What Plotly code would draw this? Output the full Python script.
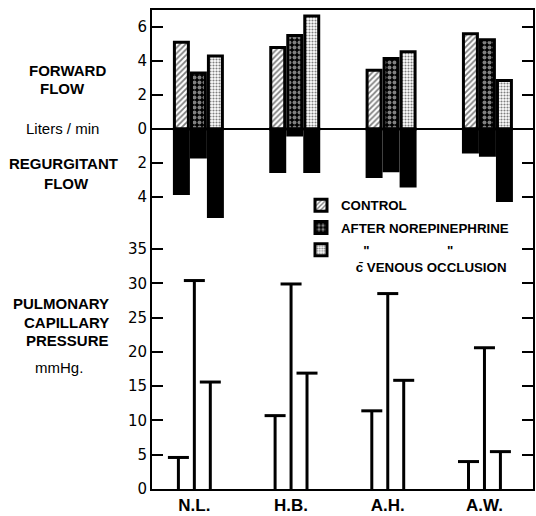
import plotly.graph_objects as go

# ---------------- data ----------------
subjects = ["N.L.", "H.B.", "A.H.", "A.W."]
condition_names = [
    "CONTROL",
    "AFTER NOREPINEPHRINE",
    "\u00a0" * 6 + '"' + "\u00a0" * 21 + '"' + "<br>" + "\u00a0" * 4 + "c\u0304 VENOUS OCCLUSION",
]

# forward flow, liters/min
forward_control = [5.1, 4.8, 3.45, 5.6]
forward_norepi = [3.3, 5.5, 4.15, 5.25]
forward_venous = [4.3, 6.65, 4.55, 2.85]

# regurgitant flow, liters/min (plotted downward)
regurg_control = [3.8, 2.5, 2.8, 1.35]
regurg_norepi = [1.65, 0.35, 2.45, 1.55]
regurg_venous = [5.15, 2.5, 3.35, 4.2]

# pulmonary capillary pressure, mmHg
pcp_control = [4.6, 10.7, 11.4, 4.0]
pcp_norepi = [30.4, 29.9, 28.5, 20.6]
pcp_venous = [15.6, 16.9, 15.85, 5.45]

flow_ticks = [-4, -2, 0, 2, 4, 6]
flow_ticktext = ["4", "2", "0", "2", "4", "6"]
pcp_ticks = [0, 5, 10, 15, 20, 25, 30, 35]

# ---------------- style ----------------
W, H = 536, 516
ML, MR, MT, MB = 152, 3, 10, 27
PW, PH = W - ML - MR, H - MT - MB
offsets_top = [-0.1765, 0.0, 0.1765]
offsets_bottom = [-0.165, 0.0, 0.165]
bar_w = 0.145
patterns = [
    dict(shape="/", bgcolor="white", fgcolor="black", size=4, solidity=0.45),
    dict(shape=".", bgcolor="black", fgcolor="white", size=5, solidity=0.5),
    dict(shape=".", bgcolor="white", fgcolor="black", size=3, solidity=0.4),
]
LABEL_FONT = "Liberation Sans"
NUM_FONT = "DejaVu Sans"


def px_x(px):
    return (px - ML) / PW


def px_y(py):
    return (H - MB - py) / PH


split_px = 230
d = px_y(split_px)

forwards = [forward_control, forward_norepi, forward_venous]
regurgs = [regurg_control, regurg_norepi, regurg_venous]
pcps = [pcp_control, pcp_norepi, pcp_venous]

fig = go.Figure()

for k in range(3):
    xs_top = [i + offsets_top[k] for i in range(len(subjects))]
    xs_bot = [i + offsets_bottom[k] for i in range(len(subjects))]
    fig.add_trace(go.Bar(
        x=xs_top, y=forwards[k], width=bar_w, name=condition_names[k],
        legendgroup=f"g{k}",
        marker=dict(color="white", line=dict(color="black", width=3),
                    pattern=patterns[k]),
        xaxis="x2", yaxis="y2",
    ))
    fig.add_trace(go.Bar(
        x=xs_top, y=[-v for v in regurgs[k]], width=bar_w, showlegend=False,
        legendgroup=f"g{k}",
        marker=dict(color="black", line=dict(color="black", width=3)),
        xaxis="x2", yaxis="y2",
    ))
    fig.add_trace(go.Scatter(
        x=xs_bot, y=pcps[k], mode="markers", showlegend=False,
        marker=dict(symbol="line-ew", size=15, color="black",
                    line=dict(color="black", width=3)),
        error_y=dict(type="data", symmetric=False, array=[0] * len(xs_bot),
                     arrayminus=pcps[k], width=0, thickness=3, color="black"),
        xaxis="x", yaxis="y",
    ))

fig.update_layout(
    width=W, height=H, autosize=False,
    margin=dict(l=ML, r=MR, t=MT, b=MB, autoexpand=False),
    paper_bgcolor="white", plot_bgcolor="white",
    barmode="overlay",
    showlegend=True,
    legend=dict(x=px_x(301), y=px_y(190), xanchor="left", yanchor="top",
                bgcolor="rgba(0,0,0,0)", traceorder="grouped", tracegroupgap=2,
                valign="top",
                font=dict(family=LABEL_FONT, size=13.3, color="black", weight="bold")),
    xaxis=dict(domain=[0, 1], range=[-0.438, 3.502], anchor="y", automargin=False,
               tickvals=list(range(len(subjects))), ticktext=subjects,
               ticks="", showline=True, linecolor="black", linewidth=2,
               showgrid=False, zeroline=False,
               tickfont=dict(family=LABEL_FONT, size=17, color="black", weight="bold")),
    xaxis2=dict(domain=[0, 1], range=[-0.4816, 3.473], anchor="y2", side="top",
                automargin=False,
                showline=True, linecolor="black", linewidth=2,
                showticklabels=False, ticks="", showgrid=False, zeroline=False),
    yaxis=dict(domain=[0, d], range=[0, (H - MB - split_px) / 6.857], anchor="x",
               automargin=False,
               tickvals=pcp_ticks, ticks="inside", ticklen=11, tickwidth=2,
               tickcolor="black", showline=True, linecolor="black", linewidth=2,
               mirror="ticks", showgrid=False, zeroline=False,
               tickfont=dict(family=NUM_FONT, size=15, color="black")),
    yaxis2=dict(domain=[d, 1], range=[-(split_px - 129) / 17, (129 - MT) / 17], anchor="x2",
                automargin=False,
                tickvals=flow_ticks, ticktext=flow_ticktext, ticks="inside",
                ticklen=11, tickwidth=2, tickcolor="black", showline=True,
                linecolor="black", linewidth=2, mirror="ticks", showgrid=False,
                zeroline=True, zerolinecolor="black", zerolinewidth=2,
                tickfont=dict(family=NUM_FONT, size=15, color="black")),
)

bold = dict(family=LABEL_FONT, size=15, color="black", weight="bold")
reg = dict(family=LABEL_FONT, size=15, color="black")
annos = [
    ("FORWARD", 67, 70, bold, "center"),
    ("FLOW", 62, 88, bold, "center"),
    ("Liters / min", 62, 128, reg, "center"),
    ("REGURGITANT", 63, 163, bold, "center"),
    ("FLOW", 66, 183, bold, "center"),
    ("PULMONARY", 111, 303, bold, "right"),
    ("CAPILLARY", 111, 322, bold, "right"),
    ("PRESSURE", 111, 340, bold, "right"),
    ("mmHg.", 59, 367, reg, "center"),
]
for text, x, y, f, al in annos:
    fig.add_annotation(text=text, x=px_x(x), y=px_y(y), xref="paper", yref="paper",
                       xanchor=al, yanchor="middle", align=al, showarrow=False, font=f)

fig.write_html(
    "out.html",
    config={"displayModeBar": False},
    post_script="document.body.style.margin='0';document.body.style.padding='0';",
)
